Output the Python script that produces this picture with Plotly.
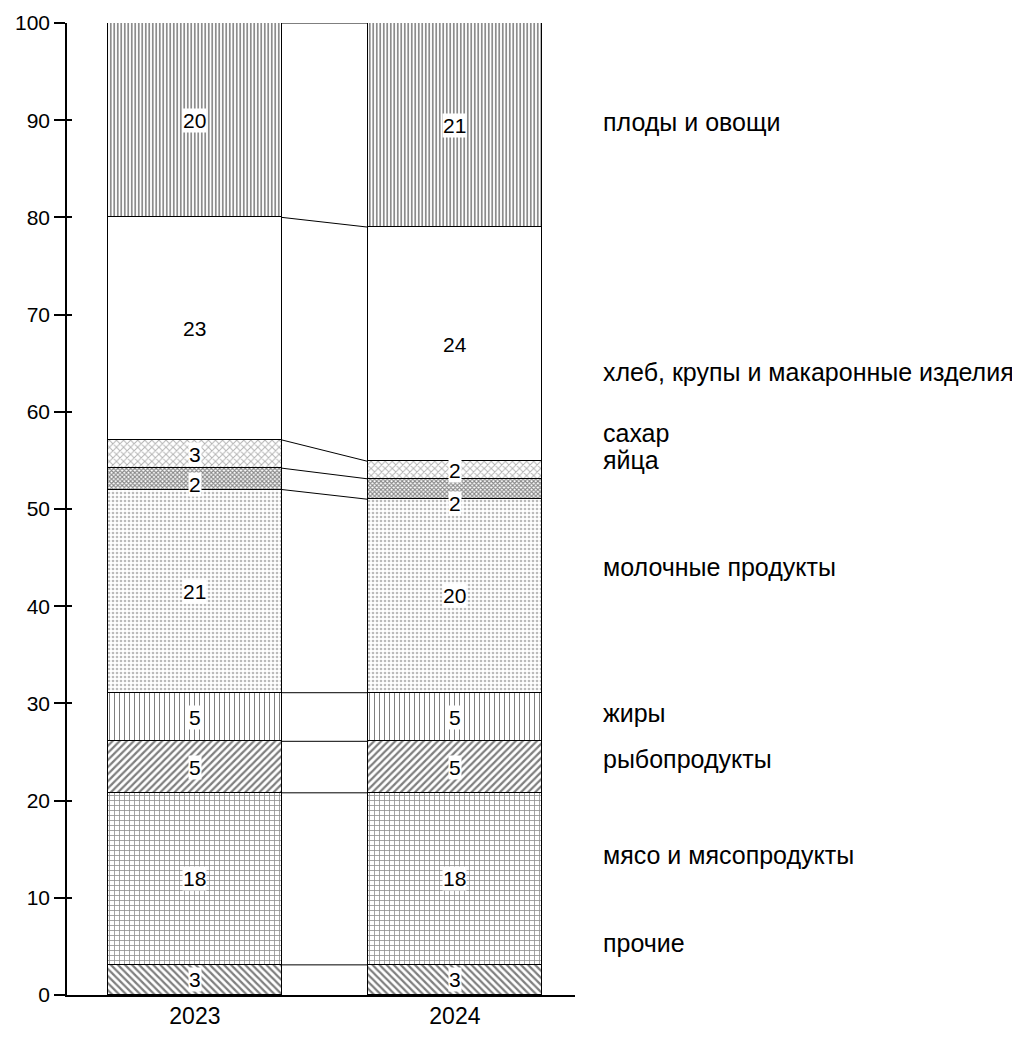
import plotly.graph_objects as go
import numpy as np

years = ["2023", "2024"]
categories = ["прочие", "мясо и мясопродукты", "рыбопродукты", "жиры",
              "молочные продукты", "яйца", "сахар",
              "хлеб, крупы и макаронные изделия", "плоды и овощи"]
values_2023 = [3.1, 17.7, 5.3, 5.0, 20.9, 2.2, 2.9, 22.9, 20.0]
values_2024 = [3.1, 17.7, 5.3, 5.0, 19.9, 2.1, 1.8, 24.1, 21.0]
labels_2023 = ["3", "18", "5", "5", "21", "2", "3", "23", "20"]
labels_2024 = ["3", "18", "5", "5", "20", "2", "2", "24", "21"]
y_ticks = [0, 10, 20, 30, 40, 50, 60, 70, 80, 90, 100]

# layout-only positions of the category names on the right
name_y = [5.3, 14.4, 24.3, 29.0, 44.0, 55.0, 57.8, 64.1, 89.8]
# layout-only pixel nudges of in-bar labels (to avoid collisions), per category
label_shift_2023 = [0, 0, 0, 0, 0, -6, 0, 0, 0]
label_shift_2024 = [0, 0, 0, 0, 0, -14, 0, 0, 0]

patterns = [
    dict(shape="\\", size=5, solidity=0.45, fgcolor="#000"),
    dict(shape="+", size=5, solidity=0.3, fgcolor="#222"),
    dict(shape="/", size=5, solidity=0.45, fgcolor="#000"),
    dict(shape="|", size=5, solidity=0.2, fgcolor="#000"),
    dict(shape=".", size=4, solidity=0.35, fgcolor="#777"),
    dict(shape="x", size=3, solidity=0.6, fgcolor="#111"),
    dict(shape="x", size=5, solidity=0.35, fgcolor="#666"),
    dict(shape="", size=6, solidity=0.3, fgcolor="#000"),
    dict(shape="|", size=3.5, solidity=0.45, fgcolor="#000"),
]

FONT = "Liberation Sans, Arial, sans-serif"
fig = go.Figure()
for i, cat in enumerate(categories):
    p = patterns[i]
    fig.add_trace(go.Bar(
        x=[0, 1], y=[values_2023[i], values_2024[i]], name=cat,
        width=0.67,
        marker=dict(color="white", line=dict(color="black", width=1.5),
                    pattern=dict(shape=p["shape"], size=p["size"], solidity=p["solidity"],
                                 fgcolor=p["fgcolor"], bgcolor="white", fillmode="overlay")),
        showlegend=False, hoverinfo="skip"))

# invisible trace to create inward tick marks (crossing ticks)
fig.add_trace(go.Scatter(x=[0], y=[0], yaxis="y2", mode="markers",
                         marker=dict(opacity=0), showlegend=False, hoverinfo="skip"))

cum23 = np.cumsum(values_2023)
cum24 = np.cumsum(values_2024)
half = 0.67 / 2
annotations = []
shapes = []
for i in range(len(categories)):
    for xi, cum, vals, labs, sh in [(0, cum23, values_2023, labels_2023, label_shift_2023),
                                    (1, cum24, values_2024, labels_2024, label_shift_2024)]:
        mid = cum[i] - vals[i] / 2
        annotations.append(dict(x=xi, y=mid, xref="x", yref="y", text=labs[i], showarrow=False,
                                bgcolor="white", borderpad=0, yshift=sh[i],
                                font=dict(family=FONT, size=21, color="black")))
    shapes.append(dict(type="line", xref="x", yref="y", x0=0 + half, x1=1 - half,
                       y0=cum23[i], y1=cum24[i], line=dict(color="black", width=1)))
    annotations.append(dict(x=1.051, y=name_y[i], xref="paper", yref="y", text=categories[i],
                            showarrow=False, xanchor="left",
                            font=dict(family=FONT, size=25, color="black")))

fig.update_layout(
    barmode="stack", width=1020, height=1039,
    margin=dict(l=59, r=453, t=15, b=52, autoexpand=False),
    plot_bgcolor="white", paper_bgcolor="white",
    bargap=0,
    annotations=annotations, shapes=shapes,
    xaxis=dict(range=[-0.492, 1.462], tickvals=[0, 1], ticktext=years, showline=True,
               linecolor="black", linewidth=1.5, ticks="", showgrid=False, zeroline=False,
               automargin=False, tickfont=dict(family=FONT, size=23, color="black")),
    yaxis=dict(range=[0, 100], tickvals=y_ticks, showline=True, linecolor="black", linewidth=1.5,
               ticks="outside", ticklen=11, tickwidth=1.5, tickcolor="black", showgrid=False,
               automargin=False, zeroline=False, tickfont=dict(family=FONT, size=21, color="black")),
    yaxis2=dict(range=[0, 100], tickvals=y_ticks, overlaying="y", side="left", showline=False,
                ticks="inside", ticklen=5, tickwidth=1.5, tickcolor="black", showgrid=False,
                automargin=False, zeroline=False, showticklabels=False),
)
fig.write_html("out.html")
